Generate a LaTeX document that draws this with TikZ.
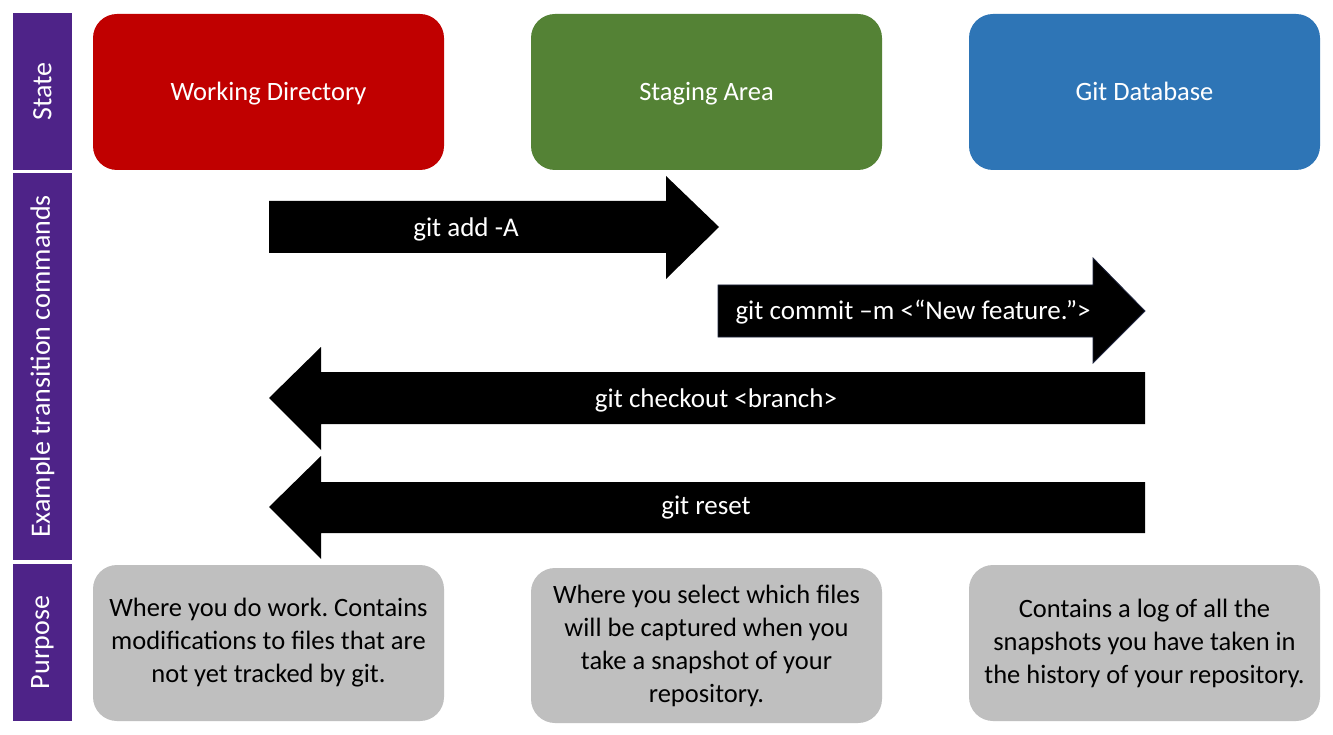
\documentclass[tikz,border=0pt]{standalone}
\usepackage{fontspec}
\setmainfont{Carlito}
\frenchspacing
\definecolor{wdred}{HTML}{C00000}
\definecolor{sagreen}{HTML}{548235}
\definecolor{dbblue}{HTML}{2E75B6}
\definecolor{pgray}{HTML}{BFBFBF}
\definecolor{barpurple}{HTML}{4E2388}
\definecolor{outlinenavy}{HTML}{1F2540}
\tikzset{
  statebox/.style={rounded corners=24pt, minimum width=351pt, minimum height=156pt, inner sep=0pt, text=white, text height=22pt, text depth=4pt, font=\fontsize{26.5}{31}\selectfont},
  purposebox/.style={fill=pgray, rounded corners=24pt, minimum width=351pt, minimum height=156pt, inner sep=0pt, align=center, text=black, font=\fontsize{26.5}{33}\selectfont},
  sidebar/.style={fill=barpurple, rotate=90, minimum height=59pt, inner sep=0pt, text=white, font=\fontsize{28}{32}\selectfont},
  blockarrow/.style={fill=black},
  arrowlabel/.style={text=white, inner sep=0pt, font=\fontsize{27}{31}\selectfont}
}
\begin{document}
\begin{tikzpicture}[x=1pt,y=-1pt]
\useasboundingbox[fill=white] (0,0) rectangle (1333,735);

% side bars
\node[sidebar, minimum width=157pt] (bstate) at (42.5,91.5) {State};
\node[sidebar, minimum width=387pt] (bcmd) at (42.5,366.5) {Example transition commands};
\node[sidebar, minimum width=157pt] (bpurp) at (42.5,642.5) {Purpose};

% states
\node[statebox, fill=wdred] (wd) at (268.5,92) {Working Directory};
\node[statebox, fill=sagreen] (sa) at (706.5,92) {Staging Area};
\node[statebox, fill=dbblue] (db) at (1144.5,92) {Git Database};

% arrows
\fill[blockarrow] (269,201) -- (666,201) -- (666,176) -- (719,227) -- (666,279) -- (666,253) -- (269,253) -- cycle;
\node[arrowlabel] (ladd) at (466,229) {git add -A};

\filldraw[blockarrow, draw=outlinenavy, line width=0.8pt] (718,285) -- (1093,285) -- (1093,258) -- (1145,311) -- (1093,363) -- (1093,337) -- (718,337) -- cycle;
\node[arrowlabel] (lcommit) at (913,312) {git commit –m <“New feature.”>};

\fill[blockarrow] (1145,372) -- (321,372) -- (321,347) -- (269,398) -- (321,450) -- (321,424) -- (1145,424) -- cycle;
\node[arrowlabel] (lcheckout) at (716,400) {git checkout <branch>};

\fill[blockarrow] (1145,482) -- (321,482) -- (321,456) -- (269,507) -- (321,559) -- (321,533) -- (1145,533) -- cycle;
\node[arrowlabel] (lreset) at (706,508) {git reset};

% purposes
\node[purposebox] (pwd) at (268.5,643) {Where you do work. Contains\\modifications to files that are\\not yet tracked by git.};
\node[purposebox, minimum height=155pt] (psa) at (706.5,645.5) {Where you select which files\\will be captured when you\\take a snapshot of your\\repository.};
\node[purposebox] (pdb) at (1144.5,643) {Contains a log of all the\\snapshots you have taken in\\the history of your repository.};
\end{tikzpicture}
\end{document}
